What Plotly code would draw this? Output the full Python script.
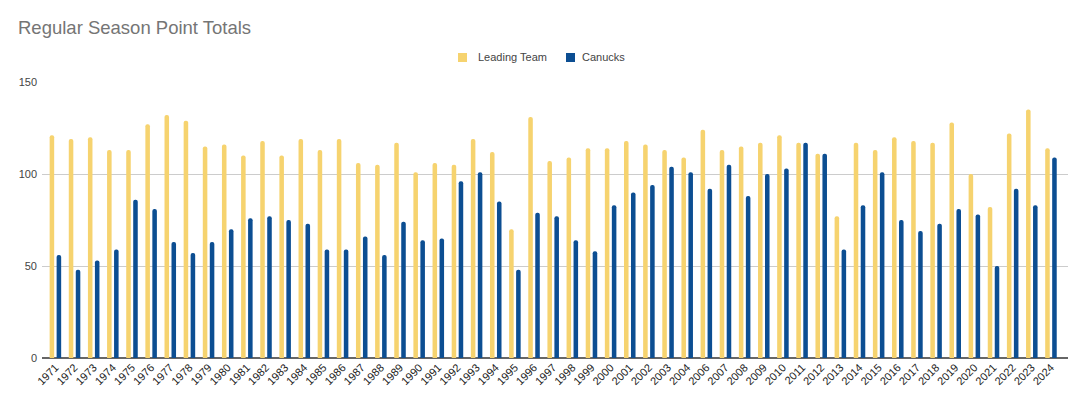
import plotly.graph_objects as go

years = [str(y) for y in range(1971, 2005)] + [str(y) for y in range(2006, 2025)]

leading_team = [121, 119, 120, 113, 113, 127, 132, 129, 115, 116,
                110, 118, 110, 119, 113, 119, 106, 105, 117, 101,
                106, 105, 119, 112, 70, 131, 107, 109, 114, 114,
                118, 116, 113, 109,
                124, 113, 115, 117, 121, 117, 111, 77, 117, 113,
                120, 118, 117, 128, 100, 82, 122, 135, 114]

canucks = [56, 48, 53, 59, 86, 81, 63, 57, 63, 70,
           76, 77, 75, 73, 59, 59, 66, 56, 74, 64,
           65, 96, 101, 85, 48, 79, 77, 64, 58, 83,
           90, 94, 104, 101,
           92, 105, 88, 100, 103, 117, 111, 59, 83, 101,
           75, 69, 73, 81, 78, 50, 92, 83, 109]

y_ticks = [0, 50, 100, 150]
series_names = ["Leading Team", "Canucks"]

YELLOW = "#F6D36F"
BLUE = "#0C4E92"
FONT = "Arial, Liberation Sans, sans-serif"

# page has an 8px body margin; figure sized to fit inside 1080x396
W, H = 1072, 388
ML, MR, MT, MB = 34, 12, 74, 38
PW, PH = W - ML - MR, H - MT - MB


def px_x(page_x):
    return (page_x - 8 - ML) / PW


def px_y(page_y):
    return (H - MB - (page_y - 8)) / PH


fig = go.Figure()
fig.add_trace(go.Bar(x=years, y=leading_team, name=series_names[0],
                     marker=dict(color=YELLOW, line=dict(width=0)), showlegend=False))
fig.add_trace(go.Bar(x=years, y=canucks, name=series_names[1],
                     marker=dict(color=BLUE, line=dict(width=0)), showlegend=False))

# custom legend (squares + labels) to match spacing
shapes = []
annotations = []
for (sx, tx), color, label in zip([(458, 477), (566, 581)], [YELLOW, BLUE], series_names):
    shapes.append(dict(type="rect", xref="paper", yref="paper",
                       x0=px_x(sx), x1=px_x(sx + 9), y0=px_y(62), y1=px_y(53),
                       fillcolor=color, line=dict(width=0)))
    annotations.append(dict(xref="paper", yref="paper", x=px_x(tx - 1), y=px_y(57.5),
                            xanchor="left", yanchor="middle", text=label, showarrow=False,
                            font=dict(family=FONT, size=11, color="#444444")))

fig.update_layout(
    template="none",
    width=W, height=H,
    paper_bgcolor="white", plot_bgcolor="white",
    margin=dict(l=ML, r=MR, t=MT, b=MB),
    barmode="group", bargap=0.27, bargroupgap=0.35,
    barcornerradius=2,
    showlegend=False,
    font=dict(family=FONT, size=11, color="#222222"),
    title=dict(text="Regular Season Point Totals", x=10 / W, xref="container",
               xanchor="left", y=1 - 20 / H, yref="container", yanchor="middle",
               font=dict(family=FONT, size=18.5, color="#757575")),
    shapes=shapes,
    annotations=annotations,
    xaxis=dict(type="category", tickangle=-45, showgrid=False, ticks="",
               range=[-0.7, len(years) - 1 + 0.89],
               tickfont=dict(family=FONT, size=11, color="#222222"),
               showline=False, zeroline=False, automargin=False),
    yaxis=dict(range=[0, 150], tickvals=y_ticks, showgrid=True, gridcolor="#cccccc",
               gridwidth=1, zeroline=True, zerolinecolor="#666666", zerolinewidth=1.5,
               ticks="", ticklabelstandoff=4, showline=False,
               tickfont=dict(family=FONT, size=11, color="#444444"),
               automargin=False),
)

fig.write_html("out.html")
